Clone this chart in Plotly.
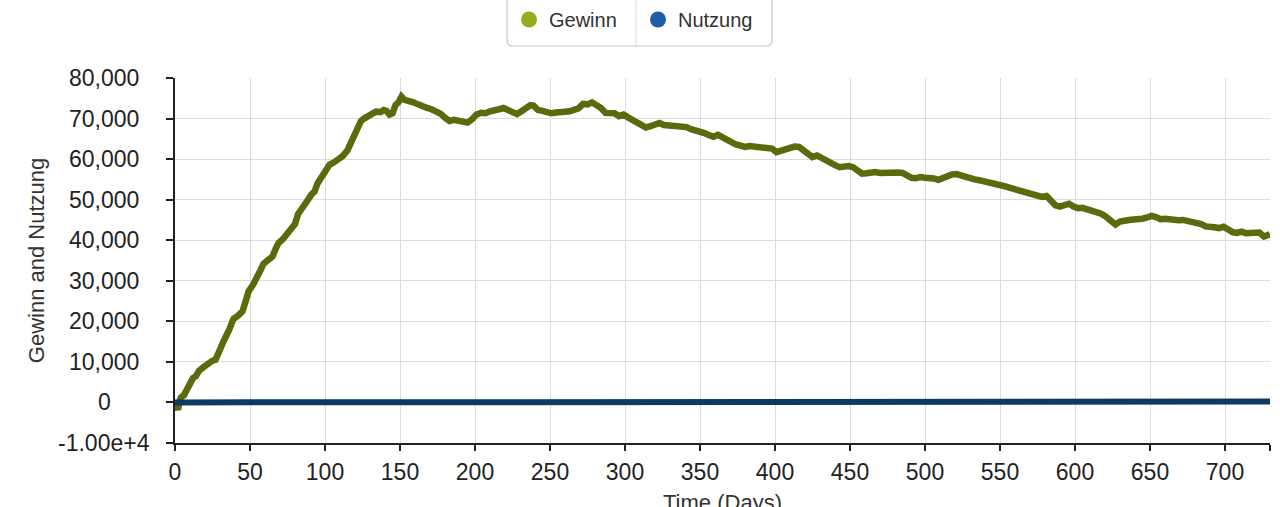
import plotly.graph_objects as go

# ---------------- data ----------------
gewinn_days = [0, 1, 2, 3, 4, 6, 8, 10, 12, 14, 16, 19, 22, 25, 27, 29, 31, 33, 36, 39,
               42, 45, 47, 49, 52, 54, 57, 59, 62, 65, 67, 69, 72, 75, 78, 80, 82, 85, 88, 91,
               93, 95, 97, 100, 103, 106, 109, 112, 115, 117, 119, 121, 124, 126, 129, 132, 134, 137, 139, 141,
               143, 145, 147, 149, 151, 153, 156, 159, 162, 165, 168, 171, 174, 177, 180, 183, 186, 189, 192, 195,
               198, 201, 204, 207, 210, 213, 216, 219, 222, 225, 228, 231, 234, 237, 239, 242, 245, 248, 251, 254,
               257, 260, 263, 266, 269, 272, 275, 278, 281, 284, 287, 290, 293, 296, 299, 302, 305, 308, 311, 314,
               317, 320, 323, 326, 329, 332, 335, 338, 341, 344, 347, 350, 353, 356, 359, 362, 365, 368, 371, 374,
               377, 380, 383, 386, 389, 392, 395, 398, 401, 404, 407, 410, 413, 416, 419, 422, 425, 428, 431, 434,
               437, 440, 443, 446, 449, 452, 455, 458, 461, 464, 467, 470, 473, 476, 479, 482, 485, 488, 491, 494,
               497, 500, 503, 506, 509, 512, 515, 518, 521, 524, 527, 530, 533, 536, 539, 542, 545, 548, 551, 554,
               557, 560, 563, 566, 569, 572, 575, 578, 581, 584, 587, 590, 593, 596, 599, 602, 605, 608, 611, 614,
               617, 620, 623, 625, 627, 630, 633, 636, 639, 642, 645, 648, 651, 654, 657, 660, 663, 666, 669, 672,
               675, 678, 681, 684, 687, 690, 693, 696, 699, 702, 705, 708, 711, 714, 717, 720, 723, 726, 728, 730]
gewinn_vals = [0, -800, -1800, 200, 1200, 1800, 3500, 4200, 6000, 6500, 7800, 8700, 9600, 10300, 10500, 12400, 14200, 15600, 17800, 20600,
               21400, 22500, 24800, 27400, 29000, 30800, 32600, 34200, 35200, 36000, 37800, 39300, 40300, 41500, 42700, 44000, 46400, 48300, 49600, 51300,
               52000, 54000, 55300, 56800, 58600, 59200, 60000, 60800, 62200, 64000, 65800, 66800, 69400, 70000, 70700, 71100, 71700, 71600, 72100, 71900,
               71000, 71300, 73300, 74000, 75400, 74600, 74500, 74000, 73500, 72900, 72600, 72300, 71900, 71200, 70200, 69400, 69700, 69600, 69500, 69000,
               69800, 71000, 71400, 71300, 71800, 71900, 72300, 72600, 72100, 71600, 71100, 71800, 72400, 73300, 73200, 72100, 71900, 71600, 71300, 71500,
               71400, 71700, 71800, 72200, 72500, 73600, 73500, 74000, 73400, 72600, 71400, 71500, 71300, 70600, 71000, 70300, 69600, 69200, 68400, 67800,
               68100, 68600, 68900, 68400, 68300, 68500, 68200, 68100, 67900, 67400, 67200, 66600, 66400, 65900, 65500, 66000, 65300, 64600, 64100, 63600,
               63300, 63000, 63200, 63000, 62900, 62800, 62500, 62600, 61700, 62100, 62700, 62800, 63100, 63000, 62300, 61200, 60500, 60900, 60200, 59500,
               59100, 58500, 58000, 58200, 58300, 58000, 57400, 56400, 56500, 56800, 56800, 56600, 56700, 56500, 56600, 56700, 56600, 55900, 55400, 55300,
               55600, 55400, 55500, 55200, 54900, 55400, 56000, 56200, 56300, 55900, 55800, 55300, 55000, 54800, 54600, 54200, 54300, 54000, 53500, 53200,
               52900, 52500, 52100, 51900, 51500, 51200, 51000, 50700, 50900, 49800, 48600, 48300, 48800, 49000, 48300, 47900, 48000, 47700, 47500, 47200,
               46600, 46000, 45100, 44300, 43900, 44600, 45000, 45000, 45100, 45000, 45300, 45600, 46000, 45700, 45200, 45300, 45100, 45000, 44900, 45000,
               44800, 44700, 44500, 44000, 43400, 43100, 43200, 43000, 43300, 42700, 42000, 41800, 42100, 41700, 41800, 42100, 41900, 40900, 41200, 41500]

nutzung_days = [0, 60, 119, 120, 300, 500, 730]
nutzung_vals = [0, 0, 0, 250, 250, 250, 250]

x_tickvals = [0, 50, 100, 150, 200, 250, 300, 350, 400, 450, 500, 550, 600, 650, 700, 730]
x_ticktext = ["0", "50", "100", "150", "200", "250", "300", "350", "400", "450", "500", "550", "600", "650", "700", ""]
y_tickvals = [80000, 70000, 60000, 50000, 40000, 30000, 20000, 10000, 0, -10000]
y_ticktext = ["80,000", "70,000", "60,000", "50,000", "40,000", "30,000", "20,000", "10,000", "0", "-1.00e+4"]

series_names = ["Gewinn", "Nutzung"]
x_title = "Time (Days)"
y_title = "Gewinn and Nutzung"
line_colors = ["#5b6a0c", "#0d3a63"]
marker_colors = ["#95ad1f", "#1f5da6"]

# ---------------- layout constants ----------------
W, H = 1280, 507
ML, MR, MT, MB = 175, 10, 78, 64
PW, PH = W - ML - MR, H - MT - MB
FONT = "Liberation Sans, Arial, sans-serif"


def px_x(p):
    return (p - ML) / PW


def px_y(p):
    return (H - MB - p) / PH


fig = go.Figure()

fig.add_trace(go.Scatter(x=gewinn_days, y=gewinn_vals, mode="lines",
                         line=dict(color=line_colors[0], width=6.5), showlegend=False,
                         name=series_names[0]))
fig.add_trace(go.Scatter(x=nutzung_days, y=nutzung_vals, mode="lines",
                         line=dict(color=line_colors[1], width=6), showlegend=False,
                         name=series_names[1]))
# legend entries (circle symbols)
for n, c in zip(series_names, marker_colors):
    fig.add_trace(go.Scatter(x=[None], y=[None], mode="markers", name=n,
                             marker=dict(color=c, size=16, symbol="circle")))

# y tick labels centred, as in the reference
annotations = []
for v, t in zip(y_tickvals, y_ticktext):
    annotations.append(dict(x=px_x(104), xref="paper", y=v, yref="y", text=t,
                            showarrow=False, xanchor="center", yanchor="middle",
                            font=dict(family=FONT, size=23, color="#222")))
# x-axis title, partly below the bottom edge as in the reference
annotations.append(dict(x=0.5, xref="paper", y=px_y(488), yref="paper", text=x_title,
                        showarrow=False, xanchor="center", yanchor="top",
                        font=dict(family=FONT, size=22, color="#333")))

# legend box (rounded bottom corners) and divider
bx0, bx1, by_top, by_bot = px_x(507), px_x(772), px_y(-10), px_y(46)
rx, ry = 6 / PW, 6 / PH
path = (f"M {bx0},{by_top} L {bx0},{by_bot + ry} Q {bx0},{by_bot} {bx0 + rx},{by_bot} "
        f"L {bx1 - rx},{by_bot} Q {bx1},{by_bot} {bx1},{by_bot + ry} L {bx1},{by_top} Z")
shapes = [
    dict(type="path", path=path, xref="paper", yref="paper",
         line=dict(color="#c9c9c9", width=1.2), fillcolor="white", layer="above"),
    dict(type="line", xref="paper", yref="paper", x0=px_x(636), x1=px_x(636),
         y0=by_bot, y1=by_top, line=dict(color="#dedede", width=1), layer="above"),
]

fig.update_layout(
    width=W, height=H,
    margin=dict(l=ML, r=MR, t=MT, b=MB, autoexpand=False),
    paper_bgcolor="white", plot_bgcolor="white",
    font=dict(family=FONT, color="#222"),
    showlegend=True,
    legend=dict(orientation="h", x=px_x(509), xanchor="left", y=px_y(0), yanchor="top",
                bgcolor="rgba(0,0,0,0)", borderwidth=0,
                font=dict(family=FONT, size=20, color="#333"),
                entrywidth=84, entrywidthmode="pixels"),
    annotations=annotations,
    shapes=shapes,
    xaxis=dict(range=[0, 730], tickmode="array", tickvals=x_tickvals, ticktext=x_ticktext,
               showgrid=True, gridcolor="#dcdcdc", gridwidth=1, zeroline=False,
               showline=True, linecolor="#222", linewidth=2,
               ticks="outside", ticklen=6, tickwidth=2, tickcolor="#222",
               tickfont=dict(family=FONT, size=23, color="#222"),
               ticklabelstandoff=1,
               automargin=False),
    yaxis=dict(range=[-10000, 80000], tickmode="array", tickvals=y_tickvals,
               showticklabels=False,
               showgrid=True, gridcolor="#dcdcdc", gridwidth=1, zeroline=False,
               showline=True, linecolor="#222", linewidth=2,
               ticks="outside", ticklen=7, tickwidth=2, tickcolor="#222",
               title=dict(text=y_title, font=dict(family=FONT, size=22, color="#333"),
                          standoff=115),
               automargin=False),
)

fig.write_html("out.html")
